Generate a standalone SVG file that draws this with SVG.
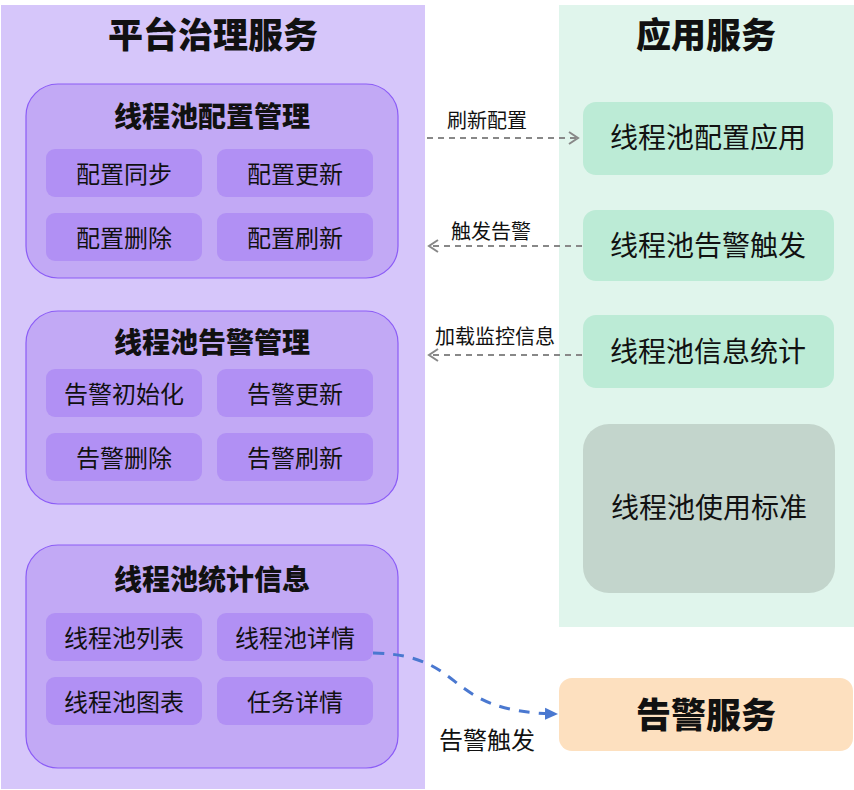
<svg xmlns="http://www.w3.org/2000/svg" width="854" height="790" viewBox="0 0 854 790">
<defs>
<style>
text{font-family:"Noto Sans CJK SC","Noto Sans",sans-serif;fill:#111;text-anchor:middle;dominant-baseline:central}
.h1{font-size:35px;font-weight:900}
.h2{font-size:28px;font-weight:900}
.sub{font-size:24px}
.app{font-size:28px}
.lbl{font-size:20px}
.grp{fill:#c2a9f5;stroke:#8b5cf6;stroke-width:1.2}
.cell{fill:#b190f4}
.gbox{fill:#bcebd6}
.dash{fill:none;stroke:#888;stroke-width:2;stroke-dasharray:6 5}
</style>
<marker id="chev" markerWidth="14" markerHeight="14" refX="11" refY="7" orient="auto" markerUnits="userSpaceOnUse">
<path d="M2,1 L11,7 L2,13" fill="none" stroke="#888" stroke-width="2"/>
</marker>
<marker id="tri" markerWidth="14" markerHeight="14" refX="12" refY="7" orient="auto" markerUnits="userSpaceOnUse">
<path d="M0,1 L13,7 L0,13 Z" fill="#4a78d0"/>
</marker>
</defs>
<rect width="854" height="790" fill="#fff"/>
<g id="platform">
<rect x="1" y="5" width="424" height="784" fill="#d6c6fa"/>
<text class="h1" x="213" y="32">平台治理服务</text>
</g>
<g id="app-service">
<rect x="559" y="5" width="295" height="622" fill="#e0f5ec"/>
<text class="h1" x="706" y="32">应用服务</text>
</g>
<g id="config-mgmt">
<rect class="grp" x="26" y="84" width="372" height="194" rx="32"/>
<text class="h2" x="212" y="115">线程池配置管理</text>
<rect class="cell" x="46" y="149" width="156" height="48" rx="9"/>
<text class="sub" x="124" y="172">配置同步</text>
<rect class="cell" x="217" y="149" width="156" height="48" rx="9"/>
<text class="sub" x="295" y="172">配置更新</text>
<rect class="cell" x="46" y="213" width="156" height="48" rx="9"/>
<text class="sub" x="124" y="236">配置删除</text>
<rect class="cell" x="217" y="213" width="156" height="48" rx="9"/>
<text class="sub" x="295" y="236">配置刷新</text>
</g>
<g id="alarm-mgmt">
<rect class="grp" x="26" y="311" width="372" height="193" rx="32"/>
<text class="h2" x="212" y="341">线程池告警管理</text>
<rect class="cell" x="46" y="369" width="156" height="48" rx="9"/>
<text class="sub" x="124" y="392">告警初始化</text>
<rect class="cell" x="217" y="369" width="156" height="48" rx="9"/>
<text class="sub" x="295" y="392">告警更新</text>
<rect class="cell" x="46" y="433" width="156" height="48" rx="9"/>
<text class="sub" x="124" y="456">告警删除</text>
<rect class="cell" x="217" y="433" width="156" height="48" rx="9"/>
<text class="sub" x="295" y="456">告警刷新</text>
</g>
<g id="stats-info">
<rect class="grp" x="26" y="545" width="372" height="223" rx="32"/>
<text class="h2" x="212" y="578">线程池统计信息</text>
<rect class="cell" x="46" y="613" width="156" height="48" rx="9"/>
<text class="sub" x="124" y="636">线程池列表</text>
<rect class="cell" x="217" y="613" width="156" height="48" rx="9"/>
<text class="sub" x="295" y="636">线程池详情</text>
<rect class="cell" x="46" y="677" width="156" height="48" rx="9"/>
<text class="sub" x="124" y="700">线程池图表</text>
<rect class="cell" x="217" y="677" width="156" height="48" rx="9"/>
<text class="sub" x="295" y="700">任务详情</text>
</g>
<g id="config-apply">
<rect class="gbox" x="583" y="102" width="250" height="73" rx="13"/>
<text class="app" x="708" y="136">线程池配置应用</text>
</g>
<g id="alarm-trigger">
<rect class="gbox" x="583" y="210" width="251" height="71" rx="13"/>
<text class="app" x="708" y="244">线程池告警触发</text>
</g>
<g id="info-stats">
<rect class="gbox" x="583" y="315" width="251" height="73" rx="13"/>
<text class="app" x="708" y="350">线程池信息统计</text>
</g>
<g id="usage-std">
<rect x="583" y="424" width="252" height="169" rx="26" fill="#c3d5cc"/>
<text class="app" x="709" y="506">线程池使用标准</text>
</g>
<g id="alarm-service">
<rect x="559" y="678" width="294" height="73" rx="13" fill="#fde0bf"/>
<text class="h1" x="706" y="712">告警服务</text>
</g>
<g id="connectors">
<path class="dash" d="M427,138 L578,138" marker-end="url(#chev)"/>
<text class="lbl" x="487" y="119">刷新配置</text>
<path class="dash" d="M582,246 L429,246" marker-end="url(#chev)"/>
<text class="lbl" x="491" y="230">触发告警</text>
<path class="dash" d="M582,355 L429,355" marker-end="url(#chev)"/>
<text class="lbl" x="495" y="335">加载监控信息</text>
<path d="M373,653 C470,655 440,712 557,714" fill="none" stroke="#4a78d0" stroke-width="3" stroke-dasharray="11 9" marker-end="url(#tri)"/>
<text class="sub" x="487" y="738">告警触发</text>
</g>
</svg>
